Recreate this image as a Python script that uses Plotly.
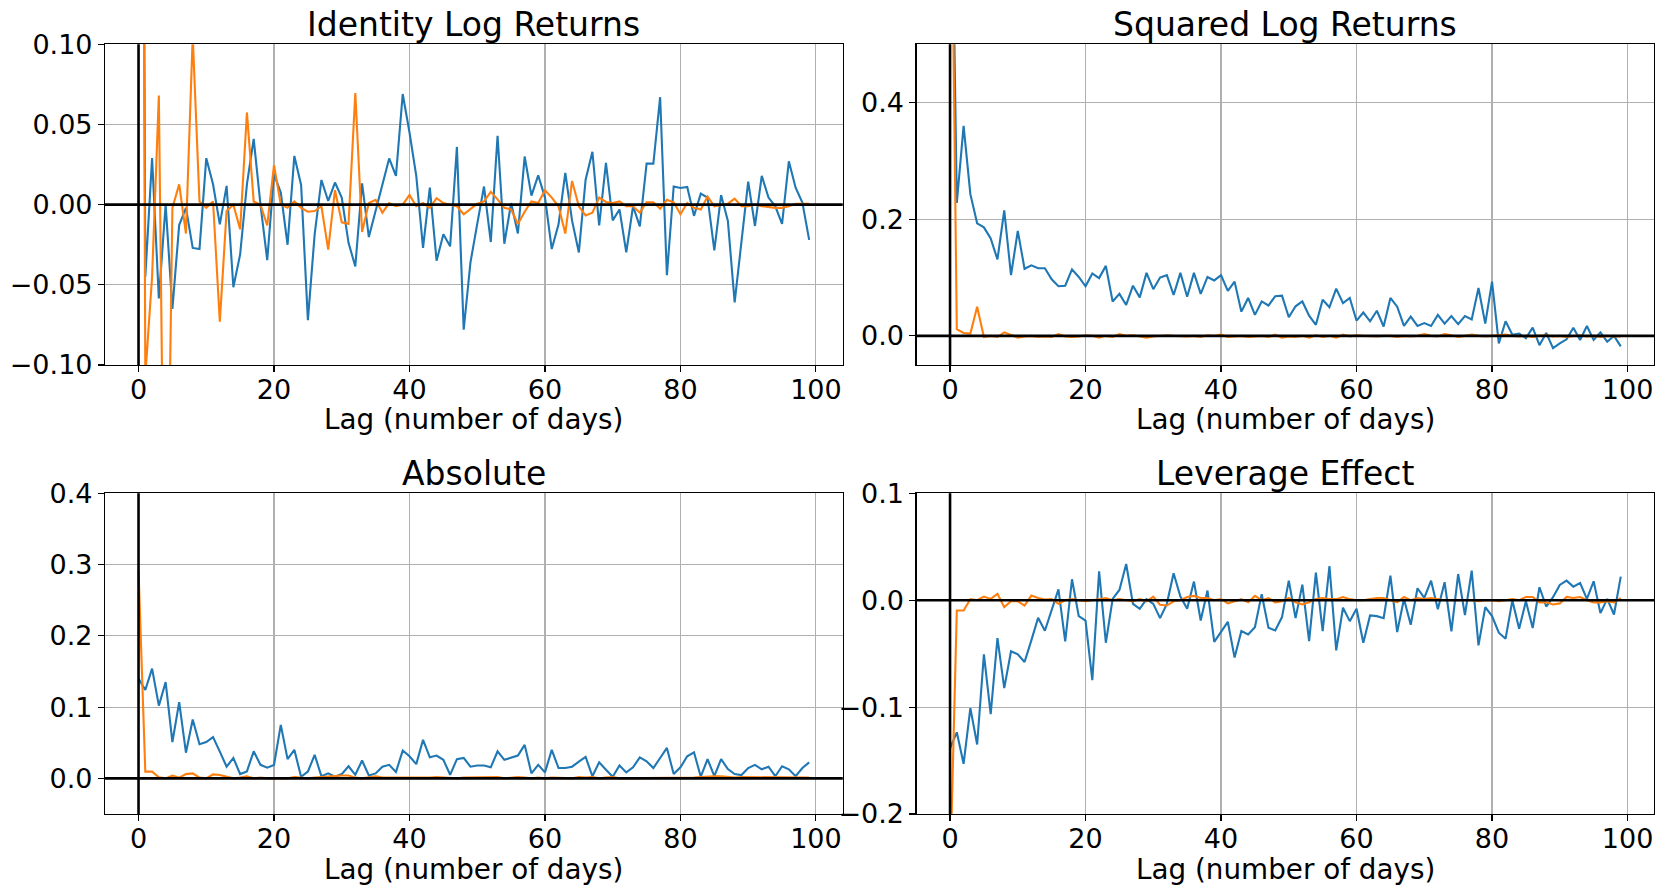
import plotly.graph_objects as go

lags = list(range(100))

ident_blue = [
    1.0, -0.045, 0.029, -0.0585, 0.0, -0.065, -0.0127, -0.002, -0.027, -0.0277,
    0.029, 0.0127, -0.0123, 0.0117, -0.0515, -0.031, 0.0127, 0.041, 0.0, -0.0346,
    0.019, 0.0075, -0.025, 0.0304, 0.0123, -0.072, -0.0185, 0.0154, 0.0023, 0.0138,
    0.0044, -0.0238, -0.0385, 0.0133, -0.0202, -0.004, 0.0127, 0.0288, 0.018, 0.069,
    0.045, 0.018, -0.027, 0.0106, -0.035, -0.0185, -0.026, 0.036, -0.078, -0.036,
    -0.012, 0.0113, -0.0233, 0.043, -0.0244, 0.001, -0.018, 0.030, 0.0056, 0.0183,
    0.0044, -0.0277, -0.0123, 0.0198, -0.010, -0.0298, 0.0156, 0.033, -0.013, 0.026,
    -0.0098, -0.003, -0.0298, -0.001, -0.0135, 0.0256, 0.0256, 0.067, -0.044, 0.0113,
    0.0104, 0.011, -0.007, 0.0069, 0.0044, -0.0285, 0.006, -0.0102, -0.061, -0.022,
    0.0144, -0.0133, 0.018, 0.0044, -0.001, -0.012, 0.027, 0.0106, 0.0013, -0.022]

ident_orange = [
    1.0, -0.107, -0.045, 0.068, -0.30, -0.002, 0.0127, -0.018, 0.105, 0.002,
    -0.002, 0.002, -0.073, -0.004, 0.0, -0.0154, 0.0575, 0.002, 0.0, -0.013,
    0.0246, 0.0, -0.002, 0.002, -0.002, -0.0044, -0.004, -0.001, -0.028, 0.009,
    -0.011, -0.012, 0.0696, -0.017, 0.001, 0.003, -0.005, 0.001, -0.001, 0.0,
    0.006, -0.001, 0.001, -0.002, 0.004, 0.001, 0.0, -0.001, -0.006, -0.0025,
    0.0006, 0.002, 0.008, 0.0033, -0.002, -0.003, -0.012, -0.0044, 0.002, 0.001,
    0.009, 0.0044, -0.001, -0.018, 0.0148, -0.001, -0.0067, -0.005, 0.0044, 0.0017,
    0.001, 0.002, -0.001, -0.001, -0.005, 0.0015, 0.0015, -0.0025, 0.003, 0.0015,
    -0.006, 0.001, -0.002, -0.003, 0.005, -0.001, 0.0, 0.0006, 0.0038, -0.001,
    -0.001, 0.0, -0.001, -0.0015, -0.002, -0.002, -0.001, 0.0006, 0.0006, 0.0006]

sq_blue = [
    1.0, 0.228, 0.360, 0.243, 0.193, 0.186, 0.167, 0.131, 0.215, 0.104,
    0.180, 0.115, 0.121, 0.116, 0.116, 0.097, 0.085, 0.086, 0.114, 0.101,
    0.085, 0.107, 0.099, 0.120, 0.059, 0.072, 0.053, 0.086, 0.066, 0.108,
    0.080, 0.100, 0.104, 0.070, 0.108, 0.067, 0.108, 0.072, 0.101, 0.095,
    0.104, 0.077, 0.093, 0.0415, 0.065, 0.036, 0.059, 0.052, 0.068, 0.069,
    0.032, 0.0507, 0.059, 0.0346, 0.019, 0.062, 0.049, 0.081, 0.056, 0.065,
    0.026, 0.040, 0.025, 0.043, 0.016, 0.065, 0.050, 0.017, 0.033, 0.017,
    0.022, 0.017, 0.036, 0.021, 0.034, 0.020, 0.034, 0.028, 0.082, 0.021,
    0.093, -0.013, 0.025, 0.002, 0.004, -0.004, 0.014, -0.016, 0.005, -0.021,
    -0.013, -0.006, 0.014, -0.007, 0.017, -0.007, 0.006, -0.010, 0.0, -0.018]

sq_orange = [
    1.0, 0.0115, 0.005, 0.004, 0.050, -0.002, 0.0, -0.002, 0.006, 0.002,
    -0.003, -0.001, 0.0, -0.002, -0.001, -0.002, 0.003, -0.001, -0.002, -0.001,
    0.001, 0.0, -0.003, 0.0, -0.002, 0.003, 0.0, 0.001, -0.001, -0.003,
    -0.001, 0.0, 0.001, 0.0, -0.001, -0.001, 0.0, -0.002, 0.001, 0.0,
    0.002, -0.002, -0.001, 0.0, -0.002, -0.001, 0.0, -0.002, 0.002, -0.003,
    -0.001, -0.002, 0.0, -0.003, 0.001, -0.002, 0.0, -0.003, 0.002, -0.001,
    0.001, 0.0, -0.001, -0.001, 0.0, 0.0, -0.002, 0.0, -0.001, 0.0,
    0.003, 0.0, -0.001, 0.003, 0.001, -0.002, 0.0, 0.002, 0.0, -0.001,
    0.0, 0.001, 0.002, 0.0, -0.001, 0.0, -0.002, 0.0, 0.001, -0.001,
    0.0, -0.002, 0.0, 0.001, -0.001, 0.0, -0.002, 0.0, -0.001, -0.001]

abs_blue = [
    0.140, 0.124, 0.154, 0.102, 0.135, 0.051, 0.107, 0.036, 0.0825, 0.048,
    0.051, 0.058, 0.0375, 0.0164, 0.0286, 0.006, 0.0098, 0.038, 0.019, 0.015,
    0.0188, 0.075, 0.027, 0.040, 0.0023, 0.0094, 0.033, 0.003, 0.007, 0.0023,
    0.006, 0.017, 0.005, 0.025, 0.004, 0.007, 0.0164, 0.019, 0.009, 0.039,
    0.031, 0.020, 0.054, 0.0295, 0.032, 0.026, 0.005, 0.027, 0.0286, 0.0164,
    0.018, 0.018, 0.0155, 0.038, 0.026, 0.0286, 0.032, 0.047, 0.007, 0.019,
    0.0084, 0.040, 0.0145, 0.0145, 0.0164, 0.0234, 0.030, 0.003, 0.0225, 0.012,
    0.0023, 0.018, 0.0084, 0.0155, 0.0295, 0.024, 0.0145, 0.0286, 0.0427, 0.006,
    0.0155, 0.031, 0.0366, 0.0023, 0.027, 0.003, 0.027, 0.013, 0.006, 0.0047,
    0.0145, 0.019, 0.0127, 0.0164, 0.003, 0.017, 0.0127, 0.003, 0.0145, 0.0225]

abs_orange = [
    0.292, 0.0094, 0.0094, 0.0014, 0.0, 0.004, 0.001, 0.006, 0.007, 0.001,
    0.0, 0.0056, 0.0047, 0.002, 0.0, 0.001, 0.003, 0.0, 0.001, 0.0,
    0.0, 0.001, 0.0, 0.002, 0.001, 0.0, 0.001, 0.002, 0.003, 0.004,
    0.004, 0.004, 0.001, 0.0, 0.002, 0.003, 0.001, 0.001, 0.0, 0.0,
    0.001, 0.0, 0.001, 0.001, 0.002, 0.001, 0.0, 0.0, 0.001, 0.001,
    0.001, 0.002, 0.001, 0.002, 0.0, 0.001, 0.002, 0.001, 0.0, 0.001,
    0.0, 0.001, 0.001, 0.001, 0.0, 0.002, 0.001, 0.002, 0.0, 0.001,
    0.002, 0.0, 0.0, 0.001, 0.0, 0.0, 0.0, 0.0, 0.001, 0.001,
    0.0, 0.001, 0.001, 0.002, 0.003, 0.003, 0.003, 0.002, 0.001, 0.002,
    0.002, 0.001, 0.002, 0.001, 0.002, 0.001, 0.002, 0.002, 0.001, 0.001]

lev_blue = [
    -0.1385, -0.1236, -0.153, -0.101, -0.135, -0.0506, -0.1065, -0.0354, -0.0823, -0.0478,
    -0.0506, -0.0578, -0.0376, -0.0165, -0.0286, -0.0087, 0.0102, -0.0385, 0.0196, -0.0149,
    -0.019, -0.0748, 0.027, -0.0398, 0.0012, 0.0096, 0.0339, -0.0034, -0.008, 0.001,
    -0.0034, -0.0168, -0.0034, 0.0252, 0.0034, -0.008, 0.0174, -0.019, 0.009, -0.039,
    -0.0298, -0.0202, -0.0537, -0.0289, -0.032, -0.0252, 0.0056, -0.0258, -0.0283, -0.0158,
    0.0183, -0.0168, 0.0146, -0.0382, 0.0258, -0.0289, 0.032, -0.0469, -0.0071, -0.0196,
    -0.008, -0.0398, -0.0143, -0.0149, -0.0168, 0.023, -0.0298, 0.0012, -0.023, 0.0112,
    0.0022, 0.0183, -0.0084, 0.0168, -0.0292, 0.0245, -0.014, 0.0276, -0.0422, -0.0065,
    -0.0149, -0.0304, -0.036, -0.0003, -0.0267, -0.001, -0.026, 0.0121, -0.0059, 0.0028,
    0.0143, 0.0183, 0.0127, 0.0161, 0.0012, 0.0177, -0.0121, 0.0012, -0.0134, 0.022]

lev_orange = [
    -0.26, -0.0096, -0.0096, 0.001, 0.0, 0.0034, 0.0012, 0.006, -0.0065, -0.001,
    -0.001, -0.005, 0.0043, 0.002, 0.0006, 0.001, -0.0034, 0.0, 0.001, 0.0,
    -0.001, 0.0, 0.001, 0.002, 0.0, 0.001, 0.0, -0.001, 0.001, -0.001,
    0.0034, -0.0043, -0.005, -0.001, 0.0, 0.003, 0.004, 0.002, 0.002, 0.0,
    0.001, -0.003, -0.001, 0.001, -0.002, 0.004, 0.0, 0.002, -0.002, -0.001,
    0.002, -0.002, -0.004, -0.002, 0.001, 0.002, 0.001, 0.001, 0.003, 0.001,
    0.0, 0.0, 0.001, 0.002, 0.002, 0.0, -0.002, 0.003, 0.0, 0.002,
    0.001, 0.002, 0.001, 0.0, 0.0, 0.0, 0.0, 0.0, -0.001, 0.0,
    0.0, -0.001, 0.0, 0.001, 0.0, 0.003, 0.003, -0.002, -0.002, -0.004,
    -0.003, 0.003, 0.002, 0.003, 0.0, -0.002, -0.002, -0.001, -0.002, 0.002]

titles = ["Identity Log Returns", "Squared Log Returns", "Absolute", "Leverage Effect"]
xlabel = "Lag (number of days)"
x_ticks = [0, 20, 40, 60, 80, 100]
y_ticks = [
    [-0.10, -0.05, 0.00, 0.05, 0.10],
    [0.0, 0.2, 0.4],
    [0.0, 0.1, 0.2, 0.3, 0.4],
    [-0.2, -0.1, 0.0, 0.1],
]
y_ranges = [[-0.1, 0.1], [-0.05, 0.5], [-0.05, 0.4], [-0.2, 0.1]]
y_formats = [".2f", ".1f", ".1f", ".1f"]
series = [
    (ident_blue, ident_orange),
    (sq_blue, sq_orange),
    (abs_blue, abs_orange),
    (lev_blue, lev_orange),
]

# the page body margin is removed by a small post script, so the figure fills the page
W, H = 1664, 895
# pixel boxes of the four axes in page coordinates (left, right, top, bottom)
boxes = [
    (105, 842.7, 44.3, 365),
    (916.5, 1654.3, 44.3, 365),
    (105, 842.7, 493.3, 814),
    (916.5, 1654.3, 493.3, 814),
]


def px(v):
    return v / W


def py(v):
    return 1 - v / H


FONT = "DejaVu Sans"
BLUE = "#1f77b4"
ORANGE = "#ff7f0e"

fig = go.Figure()
shapes = []
annotations = []

for i, (box, (b, o)) in enumerate(zip(boxes, series)):
    l, r, t, btm = box
    n = "" if i == 0 else str(i + 1)
    xa, ya = "x" + n, "y" + n
    fig.add_trace(go.Scatter(x=lags, y=b, mode="lines", xaxis=xa, yaxis=ya,
                             line=dict(color=BLUE, width=2.1), showlegend=False))
    fig.add_trace(go.Scatter(x=lags, y=o, mode="lines", xaxis=xa, yaxis=ya,
                             line=dict(color=ORANGE, width=2.1), showlegend=False))
    common = dict(showgrid=True, gridcolor="#b0b0b0", gridwidth=1.1, zeroline=False,
                  showline=True, linecolor="black", linewidth=1.1, mirror=True,
                  ticks="outside", ticklen=6, tickwidth=1.1, tickcolor="black",
                  automargin=False,
                  tickfont=dict(family=FONT, size=27, color="black"))
    fig.update_layout(**{
        "xaxis" + n: dict(domain=[px(l), px(r)], anchor=ya, range=[-4.95, 103.95],
                          tickvals=x_ticks, ticklabelstandoff=-6, **common),
        "yaxis" + n: dict(domain=[py(btm), py(t)], anchor=xa, range=y_ranges[i],
                          tickvals=y_ticks[i], tickformat=y_formats[i], **common),
    })
    shapes.append(dict(type="line", xref=xa, yref=ya + " domain", x0=0, x1=0, y0=0, y1=1,
                       line=dict(color="black", width=2.6), layer="above"))
    shapes.append(dict(type="line", xref=xa + " domain", yref=ya, x0=0, x1=1, y0=0, y1=0,
                       line=dict(color="black", width=2.6), layer="above"))
    cx = px((l + r) / 2)
    annotations.append(dict(text=titles[i], xref="paper", yref="paper", x=cx,
                            y=py(t - 19.5), xanchor="center", yanchor="middle",
                            showarrow=False, font=dict(family=FONT, size=33, color="black")))
    annotations.append(dict(text=xlabel, xref="paper", yref="paper", x=cx,
                            y=py(btm + 55), xanchor="center", yanchor="middle",
                            showarrow=False, font=dict(family=FONT, size=27.8, color="black")))

fig.update_layout(width=W, height=H, margin=dict(l=0, r=0, t=0, b=0, autoexpand=False),
                  paper_bgcolor="white", plot_bgcolor="white", showlegend=False,
                  shapes=shapes, annotations=annotations)

fig.write_html("out.html",
               config={"displayModeBar": False, "staticPlot": True},
               post_script="document.body.style.margin='0px';"
                           "document.body.style.overflow='hidden';")
